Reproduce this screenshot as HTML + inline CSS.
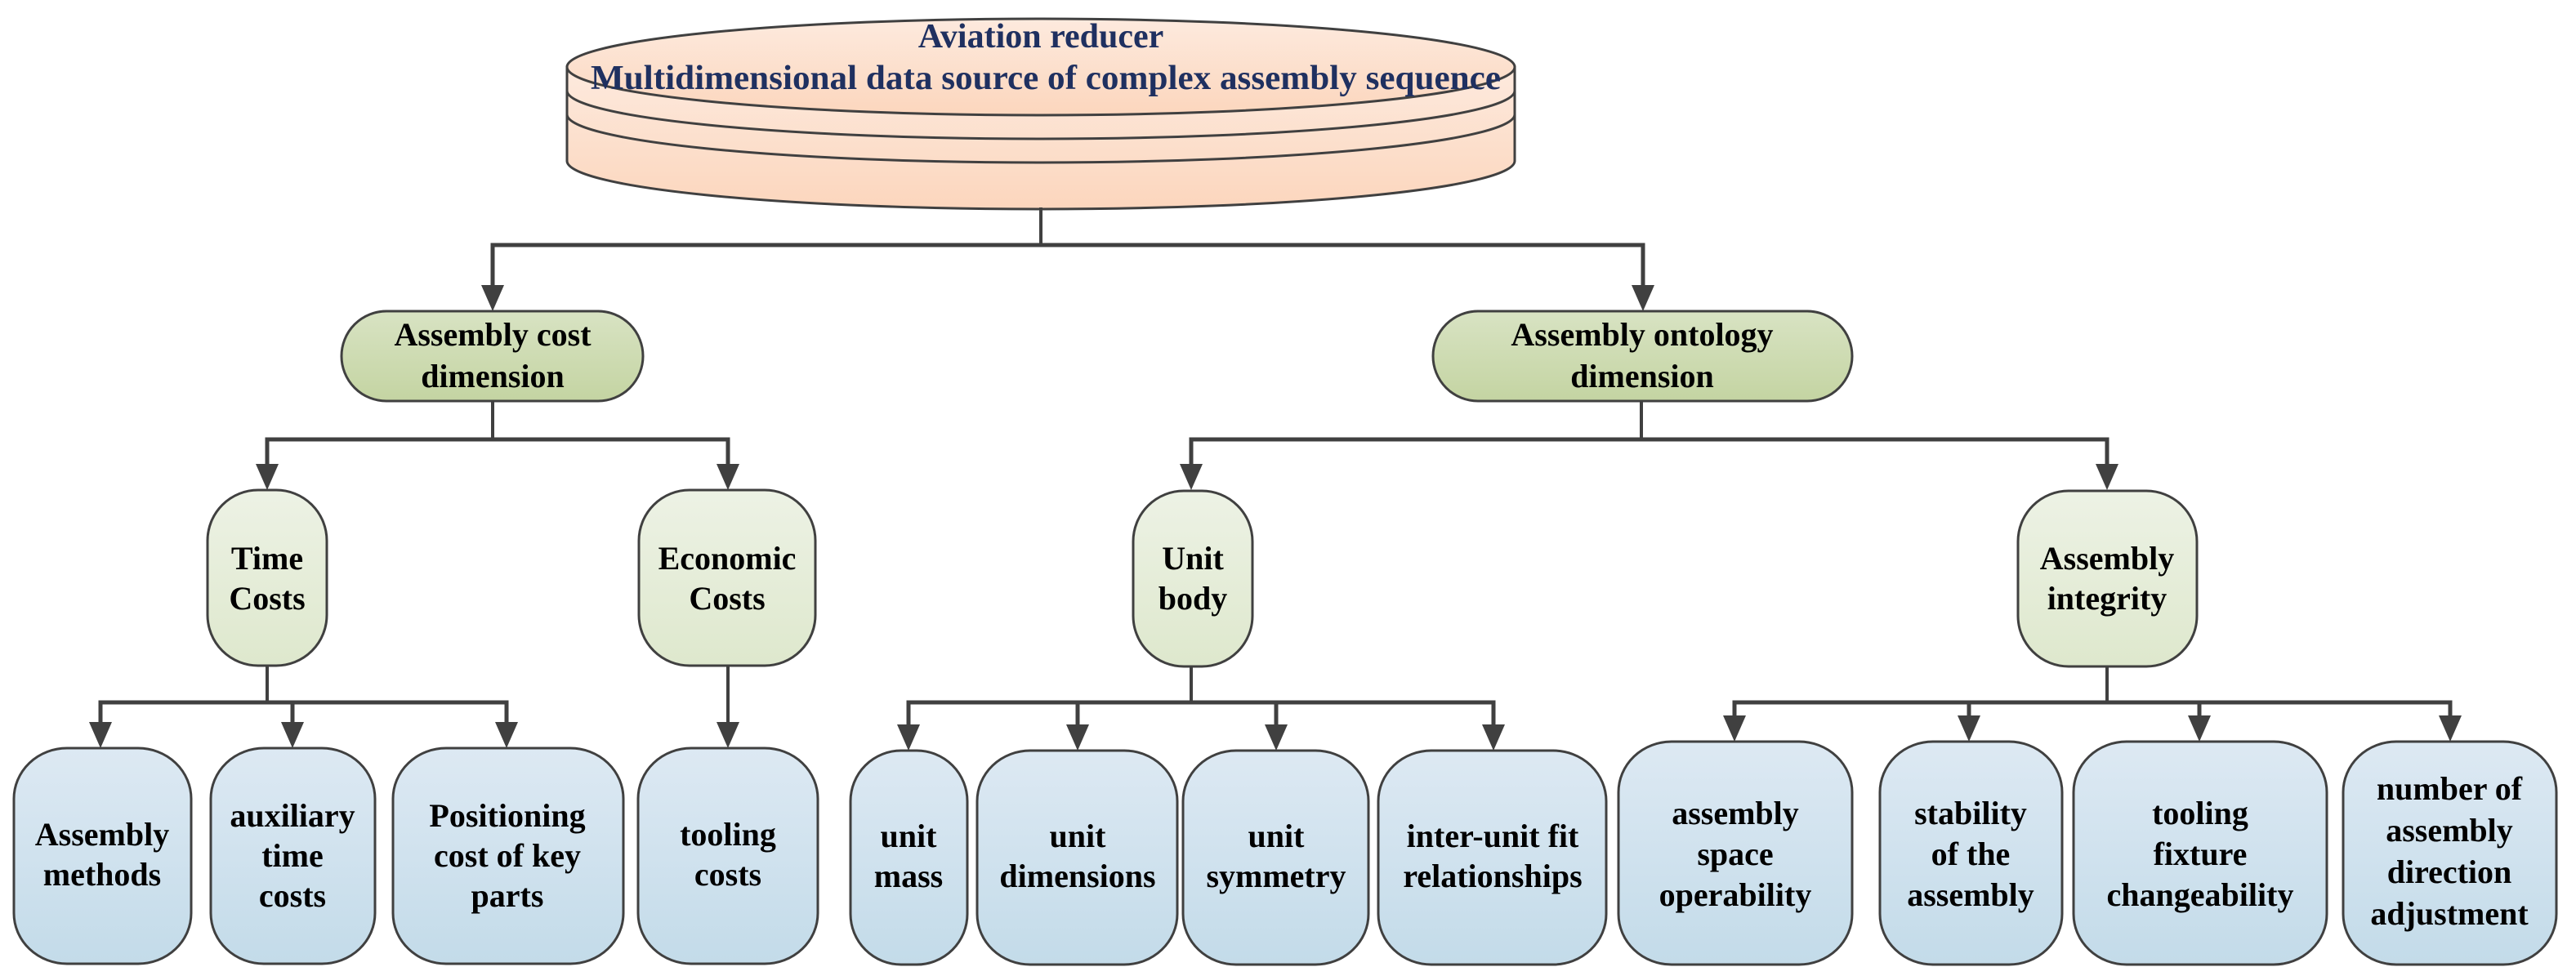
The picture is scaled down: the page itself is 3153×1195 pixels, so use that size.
<!DOCTYPE html>
<html><head><meta charset="utf-8"><style>
html,body{margin:0;padding:0;background:#fff}
svg{display:block}
text{font-family:"Liberation Serif","DejaVu Serif",serif;font-weight:bold;font-size:40px;fill:#000;text-anchor:middle}
</style></head><body>
<svg width="3153" height="1195" viewBox="0 0 3153 1195" xmlns="http://www.w3.org/2000/svg" font-family="Liberation Serif, DejaVu Serif, serif">
<defs>
<linearGradient id="gc" x1="0" y1="0" x2="0" y2="1"><stop offset="0" stop-color="#fdeade"/><stop offset="1" stop-color="#fcd6bd"/></linearGradient>
<linearGradient id="g2" x1="0" y1="0" x2="0" y2="1"><stop offset="0" stop-color="#d8e3c3"/><stop offset="1" stop-color="#c4d4a2"/></linearGradient>
<linearGradient id="g3" x1="0" y1="0" x2="0" y2="1"><stop offset="0" stop-color="#edf2e5"/><stop offset="1" stop-color="#dee8cd"/></linearGradient>
<linearGradient id="g4" x1="0" y1="0" x2="0" y2="1"><stop offset="0" stop-color="#dde9f3"/><stop offset="1" stop-color="#c3dbe9"/></linearGradient>
</defs>
<g stroke="#404040" stroke-width="3">
<path d="M694,82 L694,197 A580,59 0 0 0 1854,197 L1854,82 Z" fill="url(#gc)"/>
<ellipse cx="1274" cy="82" rx="580" ry="59" fill="url(#gc)"/>
<path d="M694,111 A580,59 0 0 0 1854,111" fill="none"/>
<path d="M694,140 A580,59 0 0 0 1854,140" fill="none"/>
</g>
<text x="1274" y="58" style="fill:#1f3060;font-size:42px">Aviation reducer</text>
<text x="1280" y="109" textLength="1114" lengthAdjust="spacingAndGlyphs" style="fill:#1f3060;font-size:42px">Multidimensional data source of complex assembly sequence</text>

<g stroke="#404040" fill="none" stroke-linecap="square">
<path d="M1274,256 V300" stroke-width="4"/>
<path d="M603,350 V300 H2011 V350" stroke-width="5"/>
<path d="M603,491 V538" stroke-width="4"/>
<path d="M327,570 V538 H891 V570" stroke-width="5"/>
<path d="M2009,491 V538" stroke-width="4"/>
<path d="M1458,570 V538 H2579 V570" stroke-width="5"/>
<path d="M327,815 V860" stroke-width="4"/>
<path d="M123,888 V860 H620 V888 M358,860 V888" stroke-width="5"/>
<path d="M891,815 V888" stroke-width="4"/>
<path d="M1458,816 V860" stroke-width="4"/>
<path d="M1112,888 V860 H1828 V888 M1319,860 V888 M1562,860 V888" stroke-width="5"/>
<path d="M2579,816 V860" stroke-width="4"/>
<path d="M2123,880 V860 H2999 V880 M2410,860 V880 M2692,860 V880" stroke-width="5"/>
</g>
<g fill="#404040">
<path d="M589,349 L617,349 L603,381 Z"/>
<path d="M1997,349 L2025,349 L2011,381 Z"/>
<path d="M313,568 L341,568 L327,600 Z"/>
<path d="M877,568 L905,568 L891,600 Z"/>
<path d="M1444,568 L1472,568 L1458,600 Z"/>
<path d="M2565,568 L2593,568 L2579,600 Z"/>
<path d="M109,884 L137,884 L123,916 Z"/>
<path d="M344,884 L372,884 L358,916 Z"/>
<path d="M606,884 L634,884 L620,916 Z"/>
<path d="M877,884 L905,884 L891,916 Z"/>
<path d="M1098,887 L1126,887 L1112,919 Z"/>
<path d="M1305,887 L1333,887 L1319,919 Z"/>
<path d="M1548,887 L1576,887 L1562,919 Z"/>
<path d="M1814,887 L1842,887 L1828,919 Z"/>
<path d="M2109,876 L2137,876 L2123,908 Z"/>
<path d="M2396,876 L2424,876 L2410,908 Z"/>
<path d="M2678,876 L2706,876 L2692,908 Z"/>
<path d="M2985,876 L3013,876 L2999,908 Z"/>
</g>

<g stroke="#404040" stroke-width="3" fill="url(#g2)">
<rect x="418" y="381" width="369" height="110" rx="55" ry="55"/>
<rect x="1754" y="381" width="513" height="110" rx="55" ry="55"/>
</g>
<text x="603" y="423">Assembly cost</text><text x="603" y="474">dimension</text>
<text x="2010" y="423">Assembly ontology</text><text x="2010" y="474">dimension</text>

<g stroke="#404040" stroke-width="3" fill="url(#g3)">
<rect x="254" y="600" width="146" height="215" rx="62" ry="62"/>
<rect x="782" y="600" width="216" height="215" rx="62" ry="62"/>
<rect x="1387" y="601" width="146" height="215" rx="62" ry="62"/>
<rect x="2470" y="601" width="219" height="215" rx="62" ry="62"/>
</g>
<text x="327" y="697">Time</text><text x="327" y="746">Costs</text>
<text x="890" y="697">Economic</text><text x="890" y="746">Costs</text>
<text x="1460" y="697">Unit</text><text x="1460" y="746">body</text>
<text x="2579" y="697">Assembly</text><text x="2579" y="746">integrity</text>

<g stroke="#404040" stroke-width="3" fill="url(#g4)">
<rect x="17" y="916" width="217" height="264" rx="65" ry="62"/>
<rect x="258" y="916" width="201" height="264" rx="65" ry="62"/>
<rect x="481" y="916" width="282" height="264" rx="65" ry="62"/>
<rect x="781" y="916" width="220" height="264" rx="65" ry="62"/>
<rect x="1041" y="919" width="143" height="262" rx="62" ry="62"/>
<rect x="1196" y="919" width="245" height="262" rx="65" ry="62"/>
<rect x="1448" y="919" width="227" height="262" rx="65" ry="62"/>
<rect x="1687" y="919" width="279" height="262" rx="65" ry="62"/>
<rect x="1981" y="908" width="286" height="273" rx="65" ry="62"/>
<rect x="2301" y="908" width="223" height="273" rx="65" ry="62"/>
<rect x="2538" y="908" width="310" height="273" rx="65" ry="62"/>
<rect x="2868" y="908" width="261" height="273" rx="65" ry="62"/>
</g>
<text x="125" y="1035">Assembly</text><text x="125" y="1084">methods</text>
<text x="358" y="1012">auxiliary</text><text x="358" y="1061">time</text><text x="358" y="1110">costs</text>
<text x="621" y="1012">Positioning</text><text x="621" y="1061">cost of key</text><text x="621" y="1110">parts</text>
<text x="891" y="1035">tooling</text><text x="891" y="1084">costs</text>
<text x="1112" y="1037">unit</text><text x="1112" y="1086">mass</text>
<text x="1319" y="1037">unit</text><text x="1319" y="1086">dimensions</text>
<text x="1562" y="1037">unit</text><text x="1562" y="1086">symmetry</text>
<text x="1827" y="1037">inter-unit fit</text><text x="1827" y="1086">relationships</text>
<text x="2124" y="1009">assembly</text><text x="2124" y="1059">space</text><text x="2124" y="1109">operability</text>
<text x="2412" y="1009">stability</text><text x="2412" y="1059">of the</text><text x="2412" y="1109">assembly</text>
<text x="2693" y="1009">tooling</text><text x="2693" y="1059">fixture</text><text x="2693" y="1109">changeability</text>
<text x="2998" y="979">number of</text><text x="2998" y="1030">assembly</text><text x="2998" y="1081">direction</text><text x="2998" y="1132">adjustment</text>
</svg>
</body></html>
